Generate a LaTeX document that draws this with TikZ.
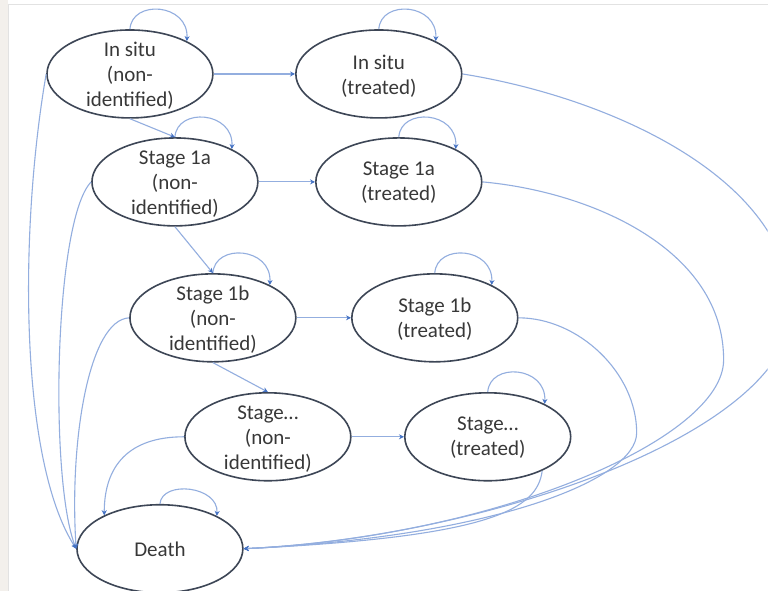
\documentclass[tikz,border=0pt]{standalone}
\usepackage{fontspec}
\setmainfont{Carlito}
\usetikzlibrary{shapes.geometric,arrows.meta}

\definecolor{ringcol}{HTML}{3D4656}
\definecolor{linkcol}{HTML}{93AEDF}
\definecolor{tipcol}{HTML}{4472C4}
\definecolor{textcol}{HTML}{383838}
\definecolor{stripcol}{HTML}{F3F0EC}
\definecolor{edgecol}{HTML}{E2E2E2}

\tikzset{
  state/.style={ellipse, draw=ringcol, line width=1.6pt, fill=white,
    minimum width=166pt, minimum height=88pt, inner sep=0pt},
  statetext/.style={text=textcol, align=center, inner sep=0pt,
    font=\fontsize{21}{25}\selectfont},
  conn/.style={draw=linkcol, line width=1.1pt,
    -{Stealth[length=5pt,width=5pt,color=tipcol]}},
}

\begin{document}
\begin{tikzpicture}[x=1pt,y=-1pt]
  % page frame
  \fill[white] (0,0) rectangle (768,591);
  \fill[stripcol] (0,0) rectangle (8,591);
  \draw[edgecol, line width=0.8pt] (8,4) -- (768,4);
  \draw[edgecol, line width=0.8pt] (8,4) -- (8,591);
  \clip (0,0) rectangle (768,591);

  % routing points for the long arcs into Death
  \coordinate (bendA) at (792,310);
  \coordinate (bendB) at (724,360);
  \coordinate (bendC) at (637,433);

  % states
  \node[state] (nis) at (130,74) {};
  \node[state] (tis) at (379,74) {};
  \node[state] (n1a) at (175,182) {};
  \node[state] (t1a) at (399,182) {};
  \node[state] (n1b) at (213,318) {};
  \node[state] (t1b) at (435,318) {};
  \node[state] (nst) at (268,437) {};
  \node[state] (tst) at (488,437) {};
  \node[state] (death) at (160,549) {};

  % labels
  \node[statetext] (nisL) at (130,76) {In situ\\(non-\\identified)};
  \node[statetext] (tisL) at (379,76) {In situ\\(treated)};
  \node[statetext] (n1aL) at (175,184) {Stage 1a\\(non-\\identified)};
  \node[statetext] (t1aL) at (399,183) {Stage 1a\\(treated)};
  \node[statetext] (n1bL) at (213,320) {Stage 1b\\(non-\\identified)};
  \node[statetext] (t1bL) at (435,319) {Stage 1b\\(treated)};
  \node[statetext] (nstL) at (268,439) {Stage…\\(non-\\identified)};
  \node[statetext] (tstL) at (488,438) {Stage…\\(treated)};
  \node[statetext] (deathL) at (160,550) {Death};

  % self loops
  \foreach \s in {nis,tis,n1a,t1a,n1b,t1b,tst}
    \draw[conn] (\s.north) .. controls +(2,-30) and +(2,-38) .. (\s.30);
  \draw[conn] (death.north) .. controls +(2,-24) and +(2,-30) .. (death.30);

  % progression of non-identified disease
  \draw[conn] (nis.south) -- (n1a.north);
  \draw[conn] (n1a.south) -- (n1b.north);
  \draw[conn] (n1b.south) -- (nst.north);

  % identification and treatment
  \draw[conn] (nis.east) -- (tis.west);
  \draw[conn] (n1a.east) -- (t1a.west);
  \draw[conn] (n1b.east) -- (t1b.west);
  \draw[conn] (nst.east) -- (tst.west);

  % deaths from non-identified states
  \draw[conn] (nis.west) .. controls +(-27,156) and +(-57,-89) .. (death.west);
  \draw[conn] (n1a.west) .. controls +(-37,38) and +(-27,-69) .. (death.west);
  \draw[conn] (n1b.west) .. controls +(-40,2) and +(-7,-109) .. (death.west);
  \draw[conn] (nst.west) .. controls +(-55,0) and +(0,-50) .. (death.149);

  % deaths from treated states
  \draw[conn] (tis.east) .. controls +(150,24) and +(0,-130) .. (bendA)
                         .. controls +(0,120) and +(250,-12) .. (death.east);
  \draw[conn] (t1a.east) .. controls +(110,10) and +(0,-110) .. (bendB)
                         .. controls +(0,80) and +(250,-12) .. (death.east);
  \draw[conn] (t1b.east) .. controls +(60,0) and +(0,-60) .. (bendC)
                         .. controls +(0,47) and +(250,-12) .. (death.east);
  \draw[conn] (tst.-32) .. controls +(-5,38) and +(250,-12) .. (death.east);
\end{tikzpicture}
\end{document}
